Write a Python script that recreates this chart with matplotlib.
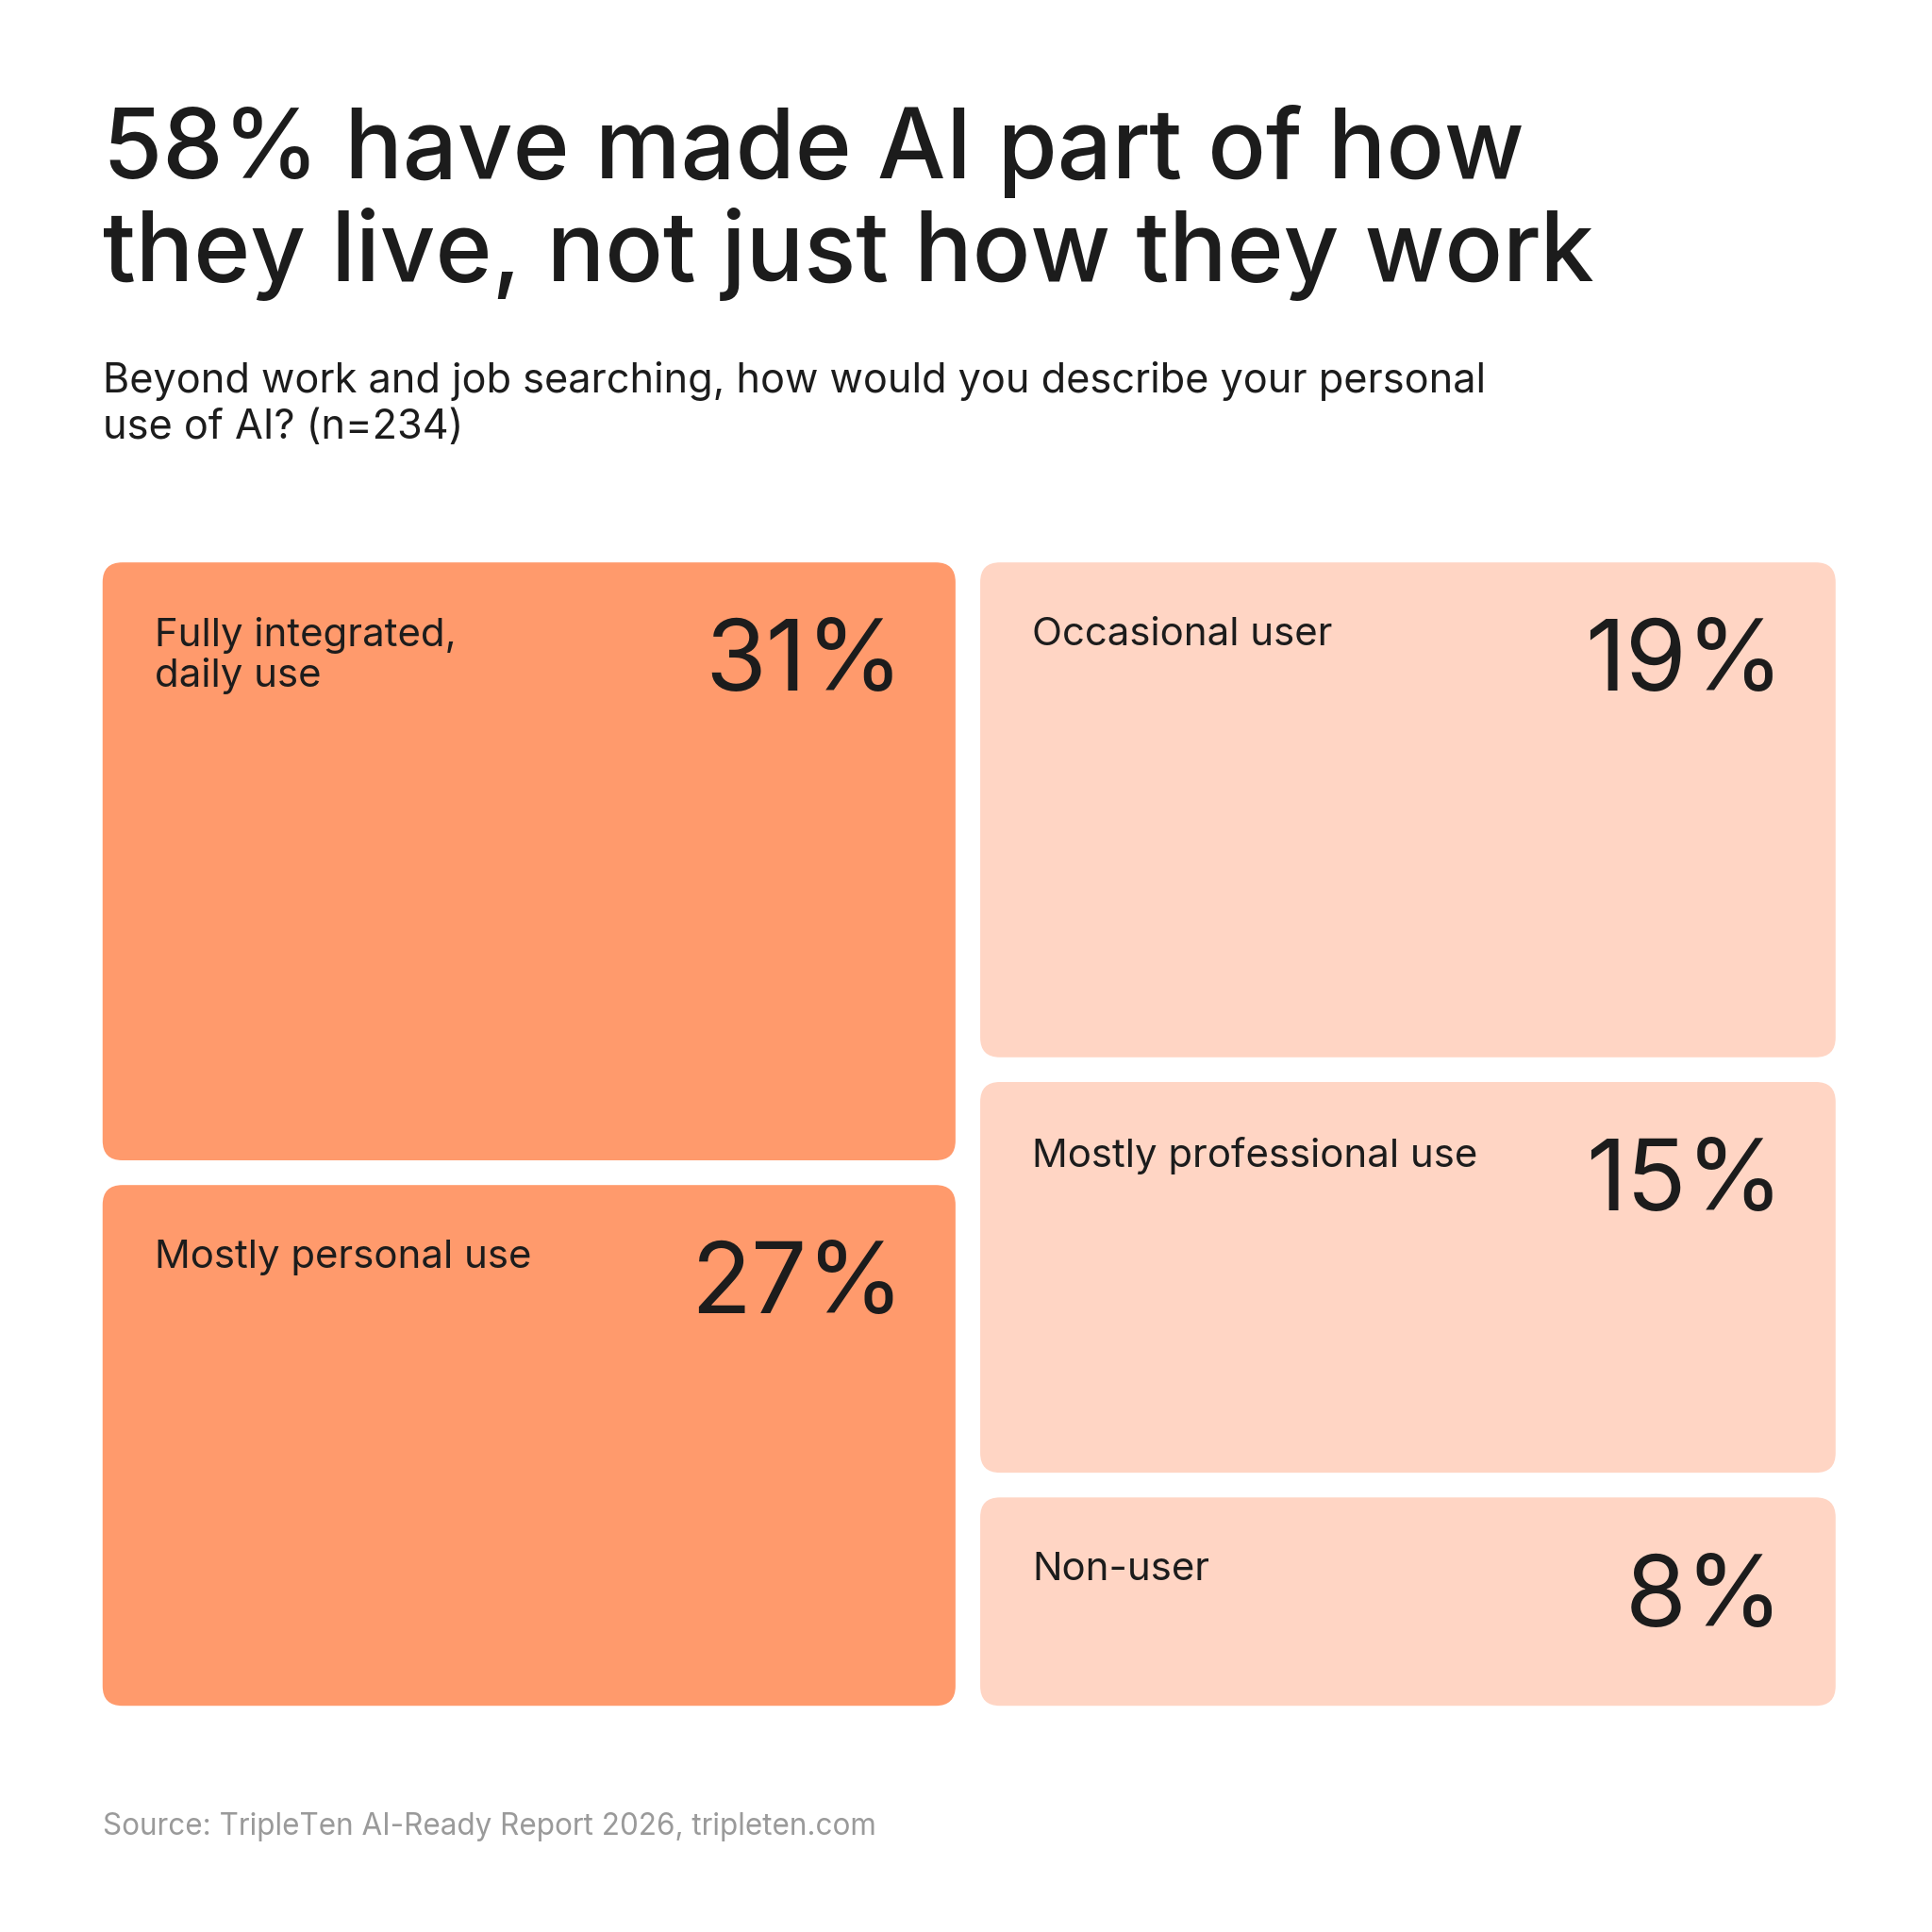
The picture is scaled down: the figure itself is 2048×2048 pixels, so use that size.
import matplotlib
matplotlib.use("Agg")
import matplotlib.pyplot as plt
from matplotlib.patches import FancyBboxPatch

plt.rcParams['font.family'] = ['Inter', 'DejaVu Sans']

left_labels = ["Fully integrated,\ndaily use", "Mostly personal use"]
left_values = [31, 27]
right_labels = ["Occasional user", "Mostly professional use", "Non-user"]
right_values = [19, 15, 8]

DARK = "#FF9A6C"
LIGHT = "#FFD5C4"
INK = "#1c1c1c"

S = 1563
fig = plt.figure(figsize=(20.48, 20.48), dpi=100)
ax = fig.add_axes([0, 0, 1, 1])
ax.set_xlim(0, S); ax.set_ylim(S, 0); ax.axis("off")
k = 2048 / S * 72 / 100  # display px -> pt

ax.text(83, 85, "58% have made AI part of how\nthey live, not just how they work",
        fontsize=78 * k, color=INK, va="top", ha="left", linespacing=1.12, fontweight="medium")
ax.text(83, 292, "Beyond work and job searching, how would you describe your personal\nuse of AI? (n=234)",
        fontsize=33 * k, color=INK, va="top", ha="left", linespacing=1.25)
ax.text(83, 1478, "Source: TripleTen AI-Ready Report 2026, tripleten.com",
        fontsize=24 * k, color="#9a9a9a", va="center", ha="left")

top, bottom, gap = 455, 1380, 20
cols = [(83, 773, left_labels, left_values, DARK), (793, 1485, right_labels, right_values, LIGHT)]
for x0, x1, labels, values, col in cols:
    n = len(values)
    avail = bottom - top - gap * (n - 1)
    tot = sum(values)
    y = top
    for lab, v in zip(labels, values):
        h = avail * v / tot
        ax.add_patch(FancyBboxPatch((x0, y), x1 - x0, h, boxstyle="round,pad=0,rounding_size=16",
                                    fc=col, ec="none"))
        ax.text(x0 + 42, y + 44, lab, fontsize=32 * k, color=INK, va="top", ha="left", linespacing=1.15)
        ax.text(x1 - 42, y + 46, f"{v}%", fontsize=80 * k, color=INK, va="top", ha="right")
        y += h + gap

fig.savefig("out.png", dpi=100, facecolor="white")
